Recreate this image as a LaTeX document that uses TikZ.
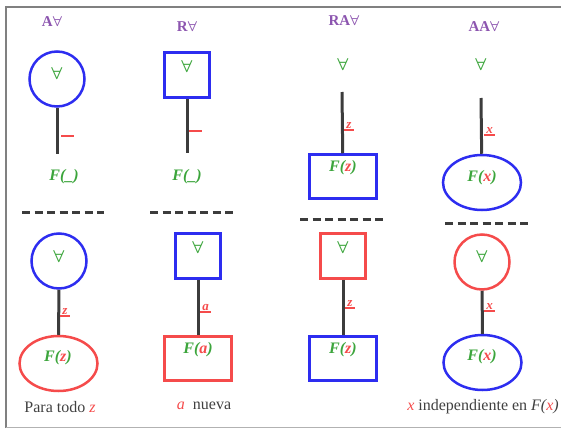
\documentclass[tikz,border=0pt]{standalone}
\usepackage{fontspec}
\setmainfont{Liberation Serif}
\usetikzlibrary{shapes.geometric}

\definecolor{blu}{RGB}{45,45,240}
\definecolor{rd}{RGB}{245,75,75}
\definecolor{grn}{RGB}{60,165,60}
\definecolor{purp}{RGB}{140,85,175}
\definecolor{stemgray}{RGB}{60,60,60}

\newcommand{\allq}{{\boldmath$\forall$}}
\newcommand{\varmark}[1]{\vtop{\hbox{#1}\kern1pt\hrule height 1.6pt}}

\begin{document}
\begin{tikzpicture}[x = 1pt, y = -1pt,
    circ/.style = {circle, draw, line width = 2.5pt, minimum size = 55pt, inner sep = 0pt},
    sq/.style = {rectangle, draw, line width = 2.5pt, minimum size = 45pt, inner sep = 0pt},
    box/.style = {rectangle, draw, line width = 2.5pt, minimum width = 67pt, minimum height = 44pt, inner sep = 0pt},
    oval/.style = {ellipse, draw, line width = 2.5pt, minimum width = 78pt, minimum height = 55pt, inner sep = 0pt},
    stem/.style = {draw = stemgray, line width = 3pt},
    head/.style = {text = purp, font = \fontsize{15}{18}\selectfont\bfseries},
    sym/.style = {text = grn, font = \fontsize{16}{19}\selectfont\boldmath},
    formula/.style = {text = grn, font = \fontsize{16}{19}\selectfont\bfseries\itshape},
    var/.style = {text = rd, font = \fontsize{13}{15}\selectfont\bfseries\itshape, inner sep = 0pt, anchor = south west},
    cut/.style = {stemgray, line width = 3pt, dash pattern = on 8pt off 4.5pt},
    caption/.style = {text = black!75, font = \fontsize{16}{19}\selectfont}]

    \useasboundingbox (0,0) rectangle (561,428);
    \draw [gray, line width = 1.5pt] (6,428) -- (6,7) -- (561,7);
    \draw [gray!60, line width = 1pt] (6,427) -- (561,427);

    % A
    \node[head] (h1) at (52,22) {A\allq};
    \node[circ, blu] (c1) at (57,79) {};
    \node[sym] (a1) at (57,73) {$\forall$};
    \coordinate (e1) at (57,154);
    \draw[stem] (c1) -- (e1);
    \node[var] (v1) at (61,137) {\varmark{\hspace{13pt}}};
    \node[formula] (f1) at (64,177) {F(\_)};

    % R
    \node[head] (h2) at (187,27) {R\allq};
    \node[sq, blu] (c2) at (187,75) {};
    \node[sym] (a2) at (187,66) {$\forall$};
    \coordinate (e2) at (187,153);
    \draw[stem] (c2) -- (e2);
    \node[var] (v2) at (189,132) {\varmark{\hspace{13pt}}};
    \node[formula] (f2) at (187,177) {F(\_)};

    % RA
    \node[head] (h3) at (344,21) {RA\allq};
    \node[sym] (c3) at (343,64) {$\forall$};
    \coordinate (s3) at (342,92);
    \node[box, blu] (d3) at (343,176.5) {};
    \draw[stem] (s3) -- (d3);
    \node[var] (v3) at (344,131) {\varmark{\,z\,}};
    \node[formula] (f3) at (343,168) {F(\textcolor{rd}{z})};

    % AA
    \node[head] (h4) at (484,27) {AA\allq};
    \node[sym] (c4) at (481,64) {$\forall$};
    \coordinate (s4) at (481,98);
    \node[oval, blu] (d4) at (482,182.5) {};
    \draw[stem] (s4) -- (d4);
    \node[var] (v4) at (484,136) {\varmark{\,x\,}};
    \node[formula] (f4) at (482,178) {F(\textcolor{rd}{x})};

    \draw[cut] (22,212) -- (104,212);
    \draw[cut] (150,212) -- (236,212);
    \draw[cut] (300,219) -- (386,219);
    \draw[cut] (445,223) -- (531,223);

    % bottom row
    \node[circ, blu] (c5) at (59,261) {};
    \node[sym] (a5) at (59,256) {$\forall$};
    \node[oval, rd] (d5) at (58.5,363.5) {};
    \draw[stem] (c5) -- (d5);
    \node[var] (v5) at (60,317) {\varmark{\,z\,}};
    \node[formula] (f5) at (58,358) {F(\textcolor{rd}{z})};
    \node[caption] (t5) at (60,407) {Para todo \textcolor{rd}{\textit{z}}};

    \node[sq, blu] (c6) at (198,256) {};
    \node[sym] (a6) at (198,247) {$\forall$};
    \node[box, rd] (d6) at (198,358.5) {};
    \draw[stem] (c6) -- (d6);
    \node[var] (v6) at (200,313) {\varmark{\,a\,}};
    \node[formula] (f6) at (198,350) {F(\textcolor{rd}{a})};
    \node[caption] (t6) at (204,406) {\textcolor{rd}{\textit{a}}\ \ nueva};

    \node[sq, rd] (c7) at (343,256) {};
    \node[sym] (a7) at (343,247) {$\forall$};
    \node[box, blu] (d7) at (343,358.5) {};
    \draw[stem] (c7) -- (d7);
    \node[var] (v7) at (345,309) {\varmark{\,z\,}};
    \node[formula] (f7) at (343,350) {F(\textcolor{rd}{z})};

    \node[circ, rd] (c8) at (482,262) {};
    \node[sym] (a8) at (482,256) {$\forall$};
    \node[oval, blu] (d8) at (482.5,362.5) {};
    \draw[stem] (c8) -- (d8);
    \node[var] (v8) at (484,312) {\varmark{\,x\,}};
    \node[formula] (f8) at (482,357) {F(\textcolor{rd}{x})};
    \node[caption] (t8) at (483,407) {\textcolor{rd}{\textit{x}} independiente en \textit{F(\textcolor{rd}{x})}};
\end{tikzpicture}
\end{document}
